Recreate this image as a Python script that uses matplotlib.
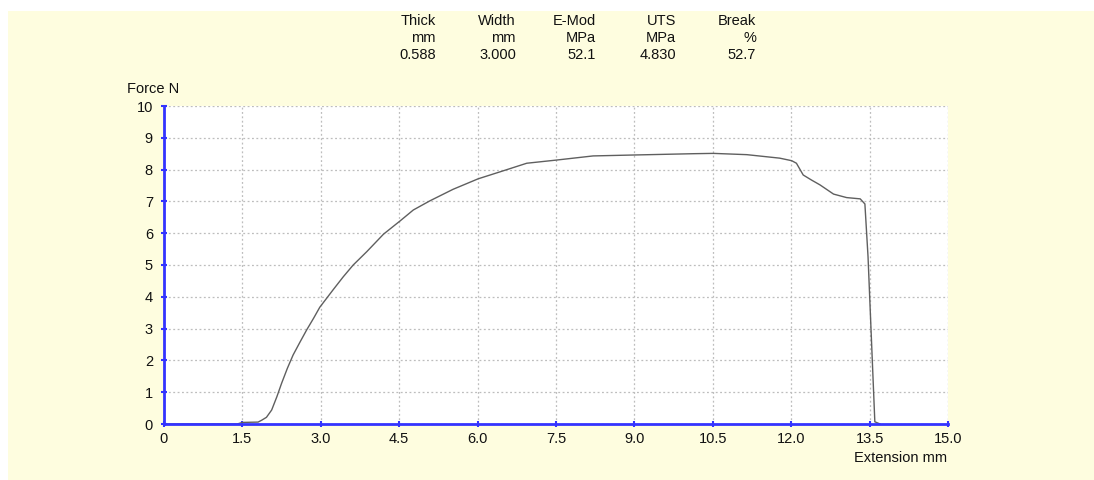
import matplotlib
matplotlib.use("Agg")
import matplotlib.pyplot as plt
from matplotlib.patches import Rectangle

plt.rcParams["font.family"] = ["Liberation Sans", "DejaVu Sans"]

# test curve
extension_mm = [0, 1.40, 1.50, 1.80, 1.87, 1.96, 2.06, 2.16, 2.25, 2.36, 2.47,
                2.60, 2.73, 2.86, 2.98, 3.24, 3.43, 3.62, 3.88, 4.20, 4.52,
                4.77, 5.09, 5.53, 6.01, 6.43, 6.94, 7.51, 8.21, 9.01, 10.13,
                10.51, 11.15, 11.78, 12.01, 12.10, 12.23, 12.39, 12.55, 12.81,
                13.06, 13.32, 13.41, 13.47, 13.60, 13.70]
force_n = [0, 0, 0.05, 0.06, 0.12, 0.21, 0.44, 0.86, 1.28, 1.75, 2.17,
           2.57, 2.96, 3.32, 3.67, 4.23, 4.63, 5.00, 5.42, 5.97, 6.39,
           6.73, 7.02, 7.38, 7.71, 7.93, 8.20, 8.30, 8.43, 8.46, 8.50,
           8.51, 8.47, 8.36, 8.28, 8.20, 7.83, 7.67, 7.52, 7.23,
           7.12, 7.08, 6.92, 5.26, 0.07, 0]

x_ticks = [0, 1.5, 3.0, 4.5, 6.0, 7.5, 9.0, 10.5, 12.0, 13.5, 15.0]
x_tick_labels = ["0", "1.5", "3.0", "4.5", "6.0", "7.5", "9.0", "10.5",
                 "12.0", "13.5", "15.0"]
y_ticks = list(range(0, 11))

# result header
head_names = ["Thick", "Width", "E-Mod", "UTS", "Break"]
head_units = ["mm", "mm", "MPa", "MPa", "%"]
head_values = ["0.588", "3.000", "52.1", "4.830", "52.7"]

W, H = 1094, 480
BLUE = "#3333ff"
fig = plt.figure(figsize=(W / 100, H / 100), dpi=100)
fig.patch.set_facecolor("white")
fig.patches.append(Rectangle((8 / W, 0), 1 - 8 / W, (H - 11) / H,
                             transform=fig.transFigure, facecolor="#fefddf",
                             edgecolor="none", zorder=-10))

ax = fig.add_axes([164 / W, 1 - 424 / H, (948 - 164) / W, (424 - 106) / H])
ax.set_facecolor("white")
ax.plot(extension_mm, force_n, color="#5f5f5f", lw=1.0, zorder=3)

ax.set_xlim(0, 15)
ax.set_ylim(0, 10)
ax.set_xticks(x_ticks)
ax.set_xticklabels(x_tick_labels)
ax.set_yticks(y_ticks)
ax.grid(True, color="#bdbdbd", ls=(0, (1.5, 2.0)), lw=0.9)
ax.set_axisbelow(True)
for sp in ["top", "right"]:
    ax.spines[sp].set_visible(False)
for sp in ["left", "bottom"]:
    ax.spines[sp].set_color(BLUE)
    ax.spines[sp].set_linewidth(2.0)
    ax.spines[sp].set_zorder(4)
ax.tick_params(direction="inout", length=4, width=1.5, color=BLUE,
               labelsize=10.5, labelcolor="#111111")
ax.tick_params(axis="y", pad=6)
ax.tick_params(axis="x", pad=4)

fig.text(127 / W, 1 - 89 / H, "Force N", ha="left", va="center",
         fontsize=10.5, color="#111111")
fig.text(947 / W, 1 - 458 / H, "Extension mm", ha="right", va="center",
         fontsize=10.5, color="#111111")

right_edges = [436, 516, 596, 676, 756]
for xr, name, unit, val in zip(right_edges, head_names, head_units, head_values):
    for yc, s in zip([21, 38, 55], [name, unit, val]):
        fig.text(xr / W, 1 - yc / H, s, ha="right", va="center",
                 fontsize=10.5, color="#111111")

fig.savefig("out.png", dpi=100, facecolor=fig.get_facecolor())
